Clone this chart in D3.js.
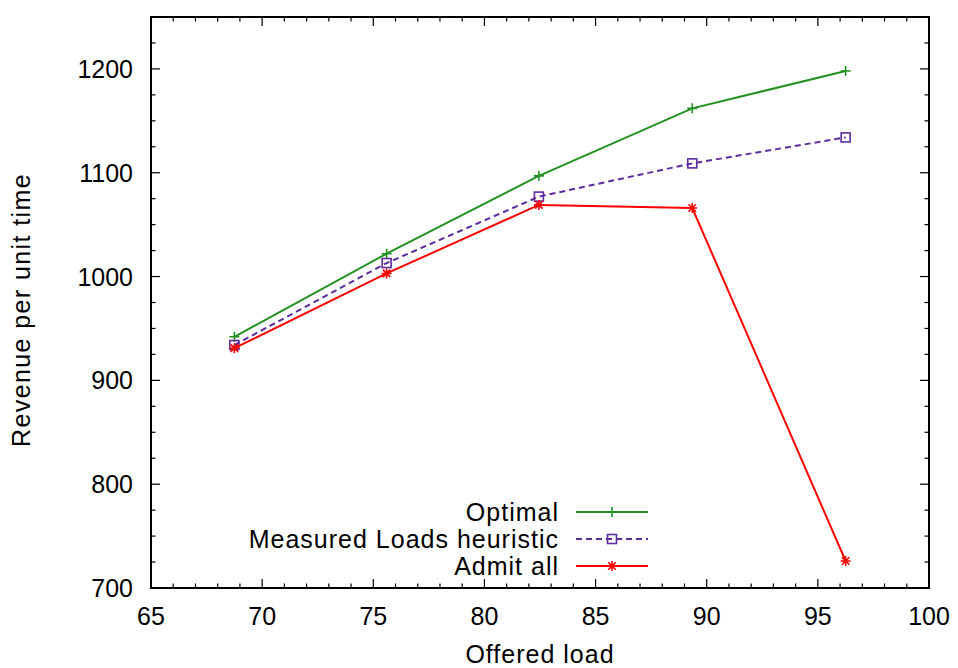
<!DOCTYPE html>
<html>
<head>
<meta charset="utf-8">
<script src="https://cdn.jsdelivr.net/npm/d3@7"></script>
<style>
  body { margin: 0; background: #fff; }
  text { font-family: "Liberation Sans", Arial, sans-serif; }
</style>
</head>
<body>
<div id="chart"></div>
<script>
// Revenue vs offered load, three admission policies

const offeredLoad = [68.75, 75.6, 82.45, 89.35, 96.25];
const optimal = [942, 1022, 1097, 1162, 1198];
const measured = [934, 1013, 1077, 1109, 1134];
const admitAll = [931, 1003, 1069, 1066, 726];
const xTicks = [65, 70, 75, 80, 85, 90, 95, 100];
const yTicks = [700, 800, 900, 1000, 1100, 1200];

const width = 958, height = 668;
const plotLeft = 151, plotRight = 929, plotTop = 17, plotBottom = 588;
const fontSize = 25;

const svg = d3.select("#chart").append("svg")
    .attr("width", width)
    .attr("height", height);

const x = d3.scaleLinear().domain([65, 100]).range([plotLeft, plotRight]);
const y = d3.scaleLinear().domain([700, 1250]).range([plotBottom, plotTop]);

const series = [
    { name: "Optimal", values: optimal, color: "#229022", dash: null, marker: "plus" },
    { name: "Measured Loads heuristic", values: measured, color: "#5c2d9e", dash: "6,4", marker: "square" },
    { name: "Admit all", values: admitAll, color: "#ff0000", dash: null, marker: "star" }
];

// ticks, minor and major, mirrored on all sides
const tickG = svg.append("g").attr("stroke", "#000").attr("stroke-width", 1.2);
d3.range(65, 100.01, 1).forEach(v => {
    const len = v % 5 === 0 ? 9 : 4.5;
    tickG.append("line").attr("x1", x(v)).attr("x2", x(v)).attr("y1", plotBottom).attr("y2", plotBottom - len);
    tickG.append("line").attr("x1", x(v)).attr("x2", x(v)).attr("y1", plotTop).attr("y2", plotTop + len);
});
d3.range(700, 1250.01, 25).forEach(v => {
    const len = v % 100 === 0 ? 9 : 4.5;
    tickG.append("line").attr("y1", y(v)).attr("y2", y(v)).attr("x1", plotLeft).attr("x2", plotLeft + len);
    tickG.append("line").attr("y1", y(v)).attr("y2", y(v)).attr("x1", plotRight).attr("x2", plotRight - len);
});

svg.append("rect")
    .attr("x", plotLeft).attr("y", plotTop)
    .attr("width", plotRight - plotLeft).attr("height", plotBottom - plotTop)
    .attr("fill", "none").attr("stroke", "#000").attr("stroke-width", 2);

svg.selectAll(".xlab").data(xTicks).enter().append("text")
    .attr("x", d => x(d)).attr("y", 625)
    .attr("text-anchor", "middle").attr("font-size", fontSize)
    .text(d => d);

svg.selectAll(".ylab").data(yTicks).enter().append("text")
    .attr("x", plotLeft - 18).attr("y", d => y(d) + 9)
    .attr("text-anchor", "end").attr("font-size", fontSize)
    .text(d => d);

svg.append("text")
    .attr("x", 540).attr("y", 663)
    .attr("text-anchor", "middle").attr("font-size", fontSize)
    .attr("letter-spacing", 1)
    .text("Offered load");

svg.append("text")
    .attr("transform", `translate(30, 310) rotate(-90)`)
    .attr("text-anchor", "middle").attr("font-size", fontSize)
    .attr("letter-spacing", 1.4)
    .text("Revenue per unit time");

function drawMarker(g, kind, cx, cy, color) {
    const s = 5;
    if (kind === "plus") {
        g.append("path").attr("d", `M${cx - s},${cy}H${cx + s}M${cx},${cy - s}V${cy + s}`)
            .attr("stroke", color).attr("stroke-width", 1.6).attr("fill", "none");
    } else if (kind === "square") {
        g.append("rect").attr("x", cx - 4.5).attr("y", cy - 4.5).attr("width", 9).attr("height", 9)
            .attr("stroke", color).attr("stroke-width", 1.6).attr("fill", "none");
    } else {
        const d = s * 0.75;
        g.append("path").attr("d", `M${cx - s},${cy}H${cx + s}M${cx},${cy - s}V${cy + s}M${cx - d},${cy - d}L${cx + d},${cy + d}M${cx - d},${cy + d}L${cx + d},${cy - d}`)
            .attr("stroke", color).attr("stroke-width", 1.6).attr("fill", "none");
    }
}

const line = d3.line().x(d => x(d[0])).y(d => y(d[1]));

series.forEach(s => {
    const pts = offeredLoad.map((v, i) => [v, s.values[i]]);
    const g = svg.append("g");
    g.append("path").datum(pts)
        .attr("d", line)
        .attr("fill", "none")
        .attr("stroke", s.color)
        .attr("stroke-width", 2)
        .attr("stroke-dasharray", s.dash);
    pts.forEach(p => drawMarker(g, s.marker, x(p[0]), y(p[1]), s.color));
});

// legend
series.forEach((s, i) => {
    const ly = 512 + i * 27;
    const g = svg.append("g");
    g.append("text")
        .attr("x", 559).attr("y", ly + 9)
        .attr("text-anchor", "end").attr("font-size", fontSize)
        .attr("letter-spacing", 1)
        .text(s.name);
    g.append("line")
        .attr("x1", 576).attr("x2", 648).attr("y1", ly).attr("y2", ly)
        .attr("stroke", s.color).attr("stroke-width", 2)
        .attr("stroke-dasharray", s.dash);
    drawMarker(g, s.marker, 612, ly, s.color);
});
</script>
</body>
</html>
